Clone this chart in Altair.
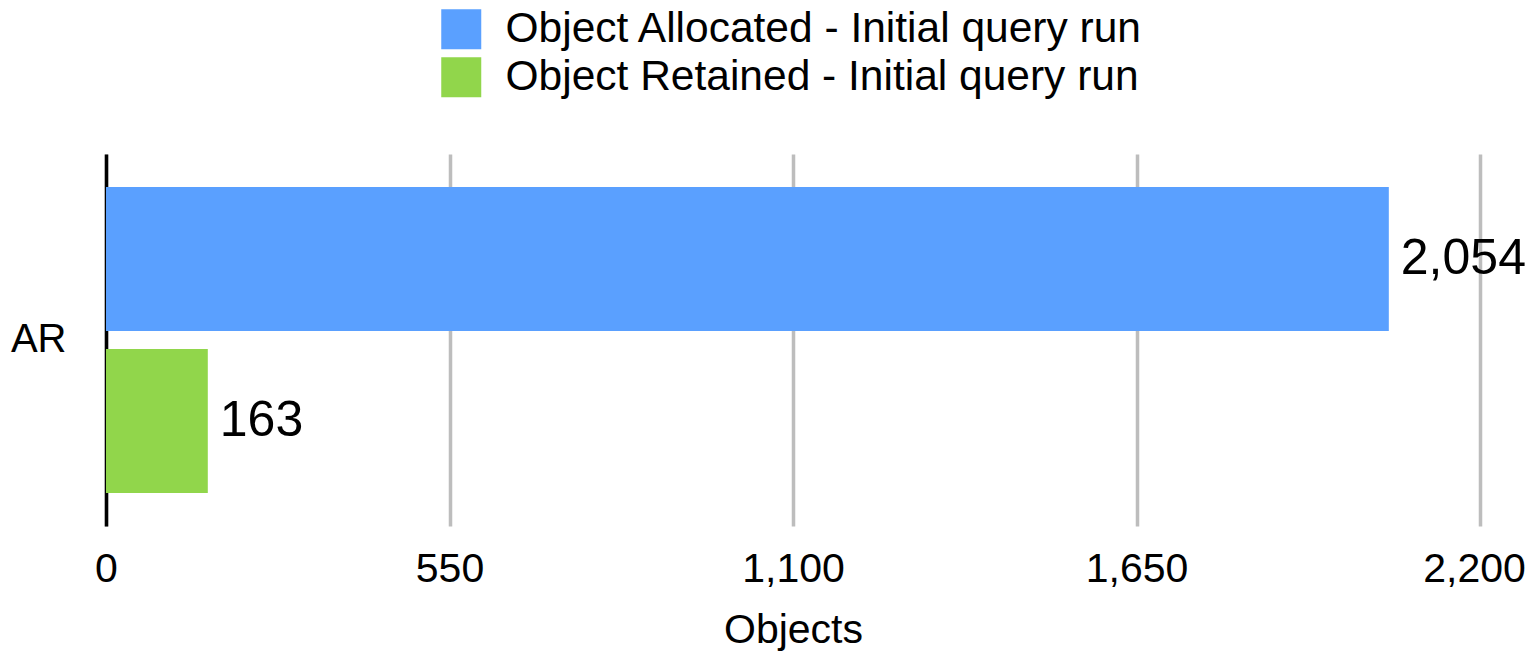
import altair as alt
import pandas as pd

categories = ["AR", "AR"]
series = ["Object Allocated - Initial query run", "Object Retained - Initial query run"]
values = [2054, 163]
colors = ["#5AA0FF", "#91D64B"]
x_ticks = [0, 550, 1100, 1650, 2200]

df = pd.DataFrame({"Category": categories, "Series": series, "Objects": values})

FONT = "Liberation Sans, Arial, Helvetica, sans-serif"

base = alt.Chart(df).encode(
    y=alt.Y(
        "Category:N",
        title=None,
        scale=alt.Scale(paddingInner=0, paddingOuter=0.108),
        axis=alt.Axis(
            labelFontSize=40, labelColor="black", labelPadding=40, ticks=False, tickSize=0,
            domainColor="black", domainWidth=3.5, labelFont=FONT, labelAngle=0,
        ),
    ),
    yOffset=alt.YOffset("Series:N", sort=series, scale=alt.Scale(paddingInner=0.111, paddingOuter=0)),
)

bars = base.mark_bar().encode(
    x=alt.X(
        "Objects:Q",
        scale=alt.Scale(domain=[0, 2200], nice=False),
        axis=alt.Axis(
            values=x_ticks, format=",.0f", grid=True, gridColor="#BDBDBD", gridWidth=3.5,
            domain=False, ticks=False, tickSize=0, labelFontSize=41, labelPadding=23,
            labelFlush=False,
            labelOffset=alt.expr("datum.value == 2200 ? -6 : 0"),
            title="Objects", titleFontSize=41, titleFontWeight="normal", titlePadding=21,
            labelFont=FONT, titleFont=FONT, labelColor="black", titleColor="black",
        ),
    ),
    color=alt.Color(
        "Series:N",
        sort=series,
        scale=alt.Scale(domain=series, range=colors),
        legend=alt.Legend(
            title=None, orient="none", legendX=334, legendY=-146, direction="vertical",
            symbolType="square", symbolSize=1600, symbolStrokeWidth=0, symbolOpacity=1,
            labelFontSize=42.5, labelFont=FONT, labelColor="black", labelOffset=23,
            rowPadding=5, labelLimit=0,
        ),
    ),
)

labels = base.mark_text(
    align="left", baseline="middle", dx=12, fontSize=50, font=FONT, color="black"
).encode(
    x=alt.X("Objects:Q"),
    text=alt.Text("Objects:Q", format=",.0f"),
)

chart = alt.layer(bars, labels).properties(
    width=1374,
    height=372,
    autosize=alt.AutoSizeParams(type="none"),
    padding={"left": 98, "top": 146, "right": 46, "bottom": 129},
).configure_view(stroke=None)

chart.save("out.html", embed_options={"renderer": "svg", "actions": False})
